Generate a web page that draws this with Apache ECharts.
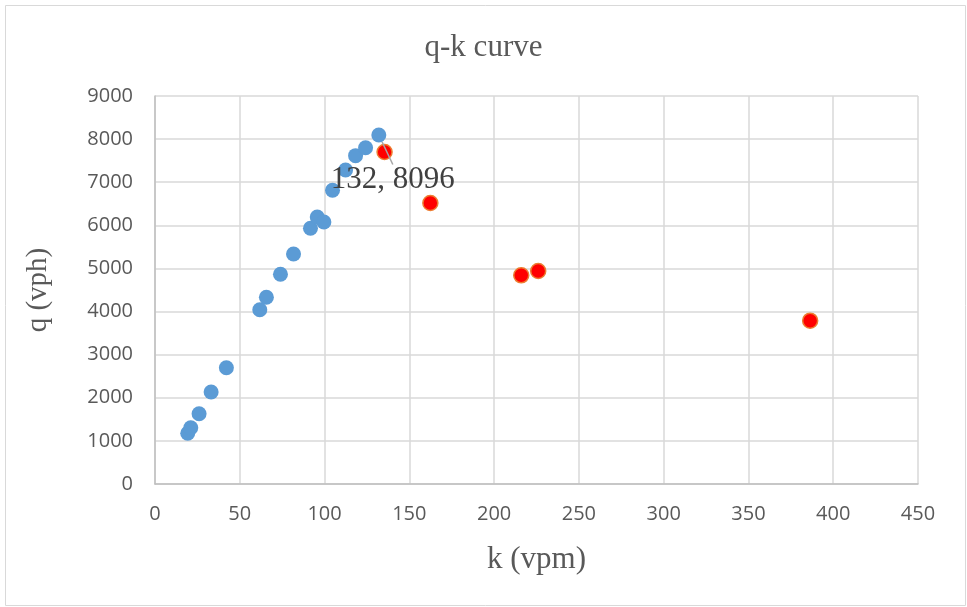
<!DOCTYPE html>
<html>
<head>
<meta charset="utf-8">
<script src="https://cdn.jsdelivr.net/npm/echarts@6/dist/echarts.min.js"></script>
<style>
html,body{margin:0;padding:0;background:#fff;}
#chart{width:967px;height:607px;}
</style>
</head>
<body>
<div id="chart"></div>
<script>
// Data
const titleText = 'q-k curve';
const xName = 'k (vpm)';
const yName = 'q (vph)';
const blueK = [19.3, 21.1, 26.0, 33.1, 42.1, 61.8, 65.7, 74.0, 81.7, 91.7, 95.7, 99.6, 104.7, 112.4, 118.3, 124.2, 132];
const blueQ = [1176, 1306, 1631, 2134, 2698, 4043, 4331, 4864, 5335, 5931, 6193, 6078, 6813, 7284, 7616, 7801, 8096];
const redK = [135.4, 162.4, 216, 226, 386.4];
const redQ = [7701, 6518, 4841, 4941, 3788];
const labelledIndex = 16; // point labelled "132, 8096"

const blueData = blueK.map((k, i) => [k, blueQ[i]]);
const redData = redK.map((k, i) => [k, redQ[i]]);

const chart = echarts.init(document.getElementById('chart'), null, {renderer: 'canvas'});
const serif = '"Liberation Serif", "DejaVu Serif", serif';
const sans = '"Open Sans", "Noto Sans", sans-serif';

chart.setOption({
  animation: false,
  backgroundColor: '#ffffff',
  graphic: [{
    type: 'rect',
    shape: {x: 5.5, y: 5.5, width: 960, height: 600},
    style: {fill: 'none', stroke: '#D9D9D9', lineWidth: 1},
    silent: true, z: -1
  }],
  title: {
    text: titleText,
    left: 'center',
    top: 27,
    textStyle: {fontFamily: serif, fontSize: 31, fontWeight: 'normal', color: '#595959'}
  },
  grid: {left: 155, right: 49, top: 96, bottom: 123, containLabel: false},
  xAxis: {
    type: 'value',
    min: 0, max: 450, interval: 50,
    name: xName,
    nameLocation: 'middle',
    nameGap: 60,
    nameTextStyle: {fontFamily: serif, fontSize: 31, color: '#595959'},
    axisLine: {show: true, lineStyle: {color: '#BFBFBF', width: 1.5}},
    axisTick: {show: false},
    axisLabel: {fontFamily: sans, fontSize: 20, color: '#595959', margin: 20, formatter: v => String(v)},
    splitLine: {show: true, lineStyle: {color: '#D9D9D9', width: 1.5}}
  },
  yAxis: {
    type: 'value',
    min: 0, max: 9000, interval: 1000,
    name: yName,
    nameLocation: 'middle',
    nameGap: 102,
    nameRotate: 90,
    nameTextStyle: {fontFamily: serif, fontSize: 29, color: '#595959'},
    axisLine: {show: true, lineStyle: {color: '#BFBFBF', width: 1.5}},
    axisTick: {show: false},
    axisLabel: {fontFamily: sans, fontSize: 20, color: '#595959', margin: 22, formatter: v => String(v)},
    splitLine: {show: true, lineStyle: {color: '#D9D9D9', width: 1.5}}
  },
  series: [
    {
      type: 'scatter',
      name: 'red',
      data: redData,
      symbolSize: 15,
      itemStyle: {color: '#FF0000', borderColor: '#ED7D31', borderWidth: 1.5, opacity: 1},
      z: 2
    },
    {
      type: 'scatter',
      name: 'blue',
      data: blueData.map((d, i) => i === labelledIndex ? {
        value: d,
        label: {
          show: true,
          position: 'bottom',
          distance: 5,
          formatter: p => p.value[0] + ', ' + p.value[1],
          fontFamily: serif, fontSize: 31, color: '#404040'
        },
        labelLine: {show: true, lineStyle: {color: '#A6A6A6', width: 1.5}}
      } : d),
      symbolSize: 15,
      itemStyle: {color: '#5B9BD5', opacity: 1},
      labelLayout: p => p.dataIndex === labelledIndex ? {dx: 14, dy: 17} : {},
      z: 3
    }
  ]
});
</script>
</body>
</html>
